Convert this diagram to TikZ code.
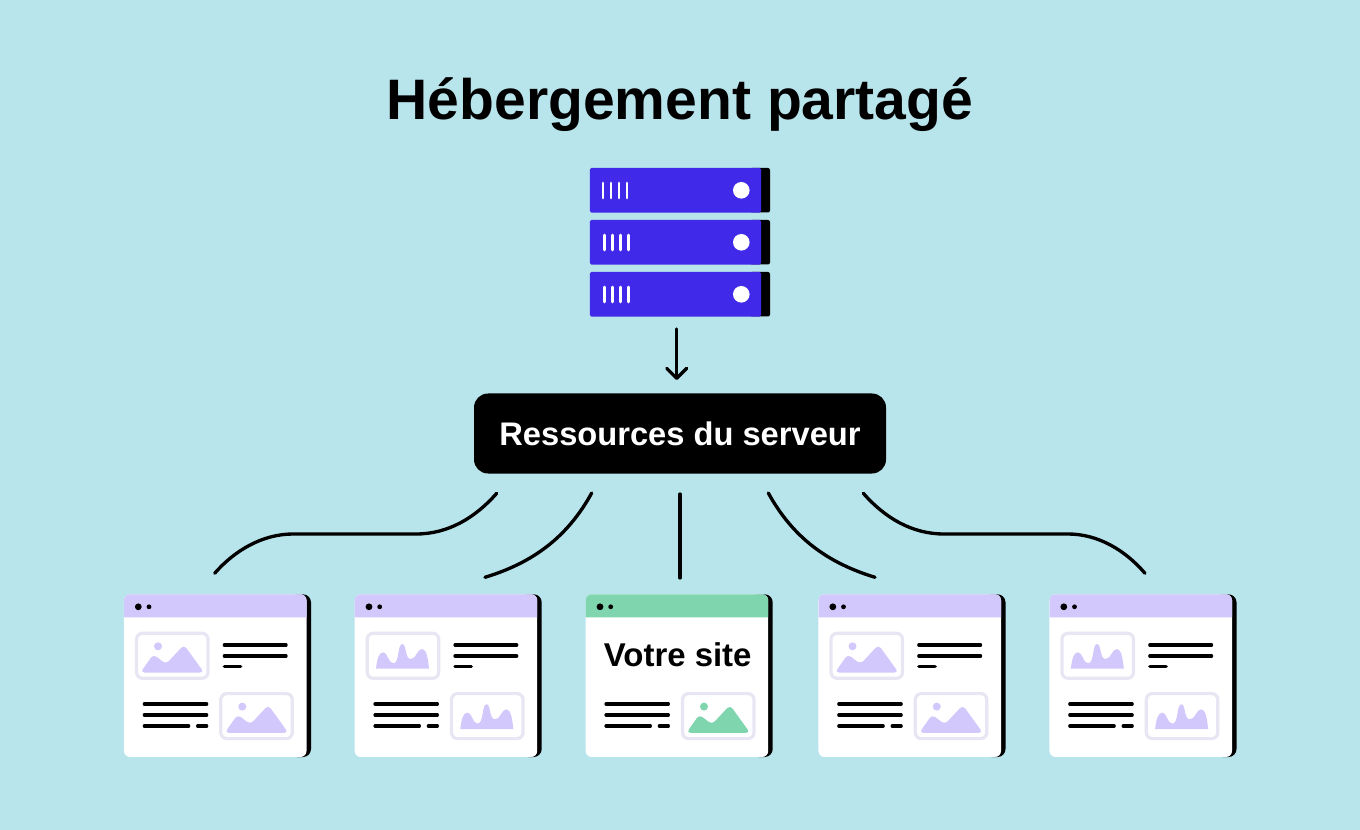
\documentclass[tikz,border=0pt]{standalone}
\usepackage{fontspec}
\setmainfont{Liberation Sans}
\usetikzlibrary{arrows.meta}

\definecolor{skyback}{HTML}{B8E4EC}
\definecolor{rackblue}{HTML}{4029E8}
\definecolor{sitelilac}{HTML}{D2C8FC}
\definecolor{sitegreen}{HTML}{7ED5AE}
\definecolor{framegrey}{HTML}{E8E6F3}

\tikzset{
  rackbody/.style={fill=rackblue, rounded corners=1.2pt, minimum width=128.5pt, minimum height=33.4pt, inner sep=0pt},
  rackshade/.style={fill=black, rounded corners=1.5pt},
  rackmark/.style={draw=white, line width=2.2pt, line cap=round},
  titletext/.style={font=\fontsize{42.8}{50}\selectfont\bfseries, inner sep=0pt},
  resbox/.style={fill=black, text=white, rounded corners=10.5pt, minimum width=309pt, minimum height=60pt, inner sep=0pt, font=\fontsize{24.5}{29}\selectfont\bfseries},
  winbody/.style={fill=white, rounded corners=4.5pt, minimum width=136.9pt, minimum height=122pt, inner sep=0pt},
  winline/.style={line width=2.4pt, line cap=round},
  picframe/.style={draw=framegrey, line width=2.4pt, fill=white, rounded corners=4.5pt},
  link/.style={line width=2.5pt, line cap=round},
  sitetext/.style={font=\fontsize{24.7}{29}\selectfont\bfseries, inner sep=0pt}
}

% window without its content
\newcommand{\winbase}[2]{
  \fill[black, rounded corners=6pt] (165,0) rectangle (187,162.7);
  \node[winbody] (#1) at (91.25,81.35) {};
  \fill[#2] (0,23) [rounded corners=4.5pt] -- (0,0) -- (182.5,0) [sharp corners] -- (182.5,23) -- cycle;
  \fill (14.3,12.5) circle [radius=3.4];
  \fill (25,12.5) circle [radius=2.4];
}

% text lines
\newcommand{\linesright}{
  \draw[winline] (100.3,50.7) -- (162.1,50.7);
  \draw[winline] (100.3,61.7) -- (162.1,61.7);
  \draw[winline] (100.3,72.5) -- (116.7,72.5);
}
\newcommand{\linesleft}{
  \draw[winline] (20.3,109.7) -- (82.7,109.7);
  \draw[winline] (20.3,120.7) -- (82.7,120.7);
  \draw[winline] (20.3,131.7) -- (64.7,131.7);
  \draw[winline] (73.6,131.7) -- (82.7,131.7);
}

% picture frames, #1 is the colour
\newcommand{\hillpic}[1]{
  \draw[picframe] (12.5,39) rectangle (84,84);
  \fill[#1] (34,52) circle [radius=4];
  \fill[#1, rounded corners=3pt] (16.5,78.2) -- (29.3,60) -- (42,69.8) -- (60,50.5) -- (80,78.2) -- cycle;
}
\newcommand{\wavepic}[1]{
  \draw[picframe] (12.5,39) rectangle (84,84);
  \fill[#1] (21.3,74.4) .. controls (22.5,65) and (24,58) .. (28.6,58) .. controls (33,58) and (33.5,69) .. (38.6,69) .. controls (45,69) and (42.5,49.7) .. (47.6,49.7) .. controls (52,49.7) and (50,64.7) .. (56,64.7) .. controls (62,64.7) and (62,54.7) .. (67.6,54.7) .. controls (72,54.7) and (73.5,66) .. (74.3,74.4) -- cycle;
}

\begin{document}
\begin{tikzpicture}[x=0.75pt, y=-0.75pt]

    \useasboundingbox (0,0) rectangle (1360,830);
    \fill[skyback] (0,0) rectangle (1360,830);

    \node[titletext] (title) at (680,105) {Hébergement partagé};

    % server
    \foreach \rackname/\racky/\markshift in {rack1/168/0, rack2/220/1.3, rack3/272/1.3} {
      \begin{scope}[yshift=-0.75*\racky pt]
        \fill[rackshade] (750,0) rectangle (770,44.5);
        \node[rackbody] (\rackname) at (675.5,22.25) {};
        \foreach \markx in {603,611,619,627} {
          \draw[rackmark] (\markx+\markshift,15) -- (\markx+\markshift,30);
        }
        \fill[white] (741.3,22.3) circle [radius=8.3];
      \end{scope}
    }

    \node[resbox] (res) at (680,433.5) {Ressources du serveur};

    \coordinate (arrowtop) at (676.7,329);
    \coordinate (arrowend) at (676.7,380);
    \draw[link, -{Straight Barb[length=7.5pt, width=15pt, line width=2.5pt, round]}] (arrowtop) -- (arrowend);

    % windows
    \begin{scope}[shift={(124,594.3)}]
      \winbase{win1}{sitelilac}
      \hillpic{sitelilac}
      \linesright
      \linesleft
      \begin{scope}[shift={(84.3,60.3)}]
        \hillpic{sitelilac}
      \end{scope}
    \end{scope}

    \begin{scope}[shift={(354.7,594.3)}]
      \winbase{win2}{sitelilac}
      \wavepic{sitelilac}
      \linesright
      \linesleft
      \begin{scope}[shift={(84.3,60.3)}]
        \wavepic{sitelilac}
      \end{scope}
    \end{scope}

    \begin{scope}[shift={(585.7,594.3)}]
      \winbase{win3}{sitegreen}
      \node[sitetext] (yoursite) at (92,60) {Votre site};
      \linesleft
      \begin{scope}[shift={(84.3,60.3)}]
        \hillpic{sitegreen}
      \end{scope}
    \end{scope}

    \begin{scope}[shift={(818.5,594.3)}]
      \winbase{win4}{sitelilac}
      \hillpic{sitelilac}
      \linesright
      \linesleft
      \begin{scope}[shift={(84.3,60.3)}]
        \hillpic{sitelilac}
      \end{scope}
    \end{scope}

    \begin{scope}[shift={(1049.5,594.3)}]
      \winbase{win5}{sitelilac}
      \wavepic{sitelilac}
      \linesright
      \linesleft
      \begin{scope}[shift={(84.3,60.3)}]
        \wavepic{sitelilac}
      \end{scope}
    \end{scope}

    % links
    \coordinate (top1) at (496.7,493.3);
    \coordinate (top2) at (591.7,493);
    \coordinate (top3) at (680,494);
    \coordinate (top4) at (768.3,493);
    \coordinate (top5) at (863.3,493.3);
    \coordinate (end1) at (214.7,573.3);
    \coordinate (end2) at (485,577.3);
    \coordinate (end3) at (680,578);
    \coordinate (end4) at (875,577.3);
    \coordinate (end5) at (1145,573.3);

    \draw[link] (top1) .. controls (475,518) and (448,534) .. (416,534) -- (293,534) .. controls (263,534) and (235,550) .. (end1);
    \draw[link] (top2) .. controls (567,538) and (532,563) .. (end2);
    \draw[link] (top3) -- (end3);
    \draw[link] (top4) .. controls (793,538) and (828,563) .. (end4);
    \draw[link] (top5) .. controls (885,518) and (912,534) .. (944,534) -- (1068,534) .. controls (1098,534) and (1125,550) .. (end5);

  \end{tikzpicture}
\end{document}
